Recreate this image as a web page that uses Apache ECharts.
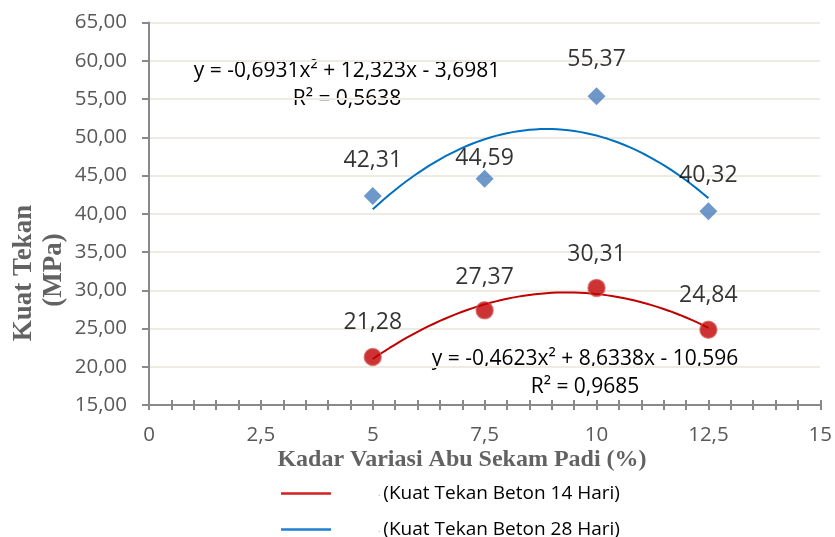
<!DOCTYPE html>
<html>
<head>
<meta charset="utf-8">
<script src="https://cdn.jsdelivr.net/npm/echarts@6/dist/echarts.min.js"></script>
<style>html,body{margin:0;padding:0;background:#fff}#c{width:835px;height:537px}</style>
</head>
<body>
<div id="c"></div>
<script>
// ---- data ----
const xValues = [5, 7.5, 10, 12.5];                 // Kadar Variasi Abu Sekam Padi (%)
const strength14 = [21.28, 27.37, 30.31, 24.84];    // Kuat Tekan Beton 14 Hari (MPa)
const strength28 = [42.31, 44.59, 55.37, 40.32];    // Kuat Tekan Beton 28 Hari (MPa)
const trend14Coef = [-0.4623, 8.6338, -10.596];     // y = a x^2 + b x + c (from chart)
const trend28Coef = [-0.6931, 12.323, -3.6981];
const trendRange = [5, 12.5];
const eq14 = ['y = -0,4623x² + 8,6338x - 10,596', 'R² = 0,9685'];
const eq28 = ['y = -0,6931x² + 12,323x - 3,6981', 'R² = 0,5638'];
const name14 = '(Kuat Tekan Beton 14 Hari)';
const name28 = '(Kuat Tekan Beton 28 Hari)';
const xTitle = 'Kadar Variasi Abu Sekam Padi (%)';
const yTitle = ['Kuat Tekan', '(MPa)'];
// label lift above each marker (px), styling only
const lift14 = [35, 33, 33, 34];
const lift28 = [36, 20, 37, 36];

const comma = (v, d) => v.toFixed(d).replace('.', ',');
function trend(coef) {
  const pts = [];
  const n = 60;
  for (let i = 0; i <= n; i++) {
    const x = trendRange[0] + (trendRange[1] - trendRange[0]) * i / n;
    pts.push([x, coef[0] * x * x + coef[1] * x + coef[2]]);
  }
  return pts;
}
function pts(ys, lifts) {
  return xValues.map((x, i) => ({
    value: [x, ys[i]],
    label: { offset: [0, -lifts[i]] }
  }));
}
const FONT = '"Open Sans", sans-serif';
const SERIF = '"Liberation Serif", "Times New Roman", serif';
const axisGray = '#898989';
const labelStyle = {
  show: true, position: 'inside', color: '#000', fontFamily: FONT, fontSize: 23,
  textBorderWidth: 0,
  formatter: p => comma(p.value[1], 2)
};
function legendFor(name, top) {
  return {
    orient: 'vertical', left: 276, top: top, itemWidth: 50, itemHeight: 2.5,
    icon: 'rect', data: [name],
    formatter: n => '{d|.}{t|' + n + '}',
    textStyle: {
      fontFamily: FONT, fontSize: 19, color: '#000', padding: [0, 0, 0, 42],
      rich: {
        d: { fontSize: 9, color: '#999', padding: [0, 3, 0, 0], fontFamily: FONT },
        t: { fontSize: 19, color: '#000', fontFamily: FONT }
      }
    }
  };
}

const chart = echarts.init(document.getElementById('c'), null, { renderer: 'canvas' });
chart.setOption({
  animation: false,
  backgroundColor: '#fff',
  grid: { left: 149, right: 14, top: 22.5, bottom: 132, containLabel: false },
  xAxis: [{
    type: 'value', min: 0, max: 15, interval: 0.5, position: 'bottom',
    axisLine: { show: true, lineStyle: { color: axisGray, width: 2 } },
    axisTick: { show: true, length: 5, lineStyle: { color: axisGray, width: 2 } },
    axisLabel: {
      margin: 20, color: '#595959', fontFamily: FONT, fontSize: 20.5,
      formatter: v => (Math.abs(v / 2.5 - Math.round(v / 2.5)) < 1e-6 ? comma(v, v % 1 === 0 ? 0 : 1) : '')
    },
    splitLine: { show: false }
  }, {
    type: 'value', min: 0, max: 15, interval: 0.5, position: 'bottom', offset: 0,
    axisLine: { show: false },
    axisTick: { show: true, inside: true, length: 5, lineStyle: { color: axisGray, width: 2 } },
    axisLabel: { show: false },
    splitLine: { show: false }
  }],
  yAxis: {
    type: 'value', min: 15, max: 65, interval: 5,
    axisLine: { show: true, lineStyle: { color: axisGray, width: 2 } },
    axisTick: { show: true, length: 7, lineStyle: { color: axisGray, width: 2 } },
    axisLabel: { margin: 22, color: '#595959', fontFamily: FONT, fontSize: 20.5, formatter: v => comma(v, 2) },
    splitLine: { show: true, lineStyle: { color: '#EEEBE3', width: 2 } }
  },
  legend: [legendFor(name14, 479), legendFor(name28, 515)],
  series: [
    {
      name: name14, type: 'line', data: trend(trend14Coef), showSymbol: false, smooth: false,
      lineStyle: { color: '#C00000', width: 2 }, itemStyle: { color: '#D42020' }, z: 2, silent: true
    },
    {
      name: name28, type: 'line', data: trend(trend28Coef), showSymbol: false, smooth: false,
      lineStyle: { color: '#0070C0', width: 2 }, itemStyle: { color: '#1F7FD0' }, z: 2, silent: true
    },
    {
      name: 'Kuat Tekan Beton 14 Hari', type: 'scatter', data: pts(strength14, lift14),
      symbol: 'circle', symbolSize: 17,
      itemStyle: { color: '#C00000', borderColor: 'rgba(210,90,90,0.85)', borderWidth: 1.5 },
      label: labelStyle, z: 3
    },
    {
      name: 'Kuat Tekan Beton 28 Hari', type: 'scatter', data: pts(strength28, lift28),
      symbol: 'path://M0,-1L1,0L0,1L-1,0Z', symbolSize: 18,
      itemStyle: { color: '#4A7EBB' },
      label: labelStyle, z: 3
    }
  ],
  graphic: [
    { type: 'text', x: 347, y: 71, style: { text: eq28[0], font: '21px ' + FONT, fill: '#000', align: 'center', verticalAlign: 'middle' } },
    { type: 'text', x: 347, y: 99, style: { text: eq28[1], font: '21px ' + FONT, fill: '#000', align: 'center', verticalAlign: 'middle' } },
    { type: 'text', x: 585, y: 359, style: { text: eq14[0], font: '21px ' + FONT, fill: '#000', align: 'center', verticalAlign: 'middle' } },
    { type: 'text', x: 585, y: 387, style: { text: eq14[1], font: '21px ' + FONT, fill: '#000', align: 'center', verticalAlign: 'middle' } },
    { type: 'text', x: 462, y: 460, style: { text: xTitle, font: 'bold 24px ' + SERIF, fill: '#626262', align: 'center', verticalAlign: 'middle' } },
    { type: 'text', x: 24, y: 273, rotation: Math.PI / 2, style: { text: yTitle[0], font: 'bold 27px ' + SERIF, fill: '#626262', align: 'center', verticalAlign: 'middle' } },
    { type: 'text', x: 54, y: 270, rotation: Math.PI / 2, style: { text: yTitle[1], font: 'bold 27px ' + SERIF, fill: '#626262', align: 'center', verticalAlign: 'middle' } }
  ]
});
</script>
</body>
</html>
